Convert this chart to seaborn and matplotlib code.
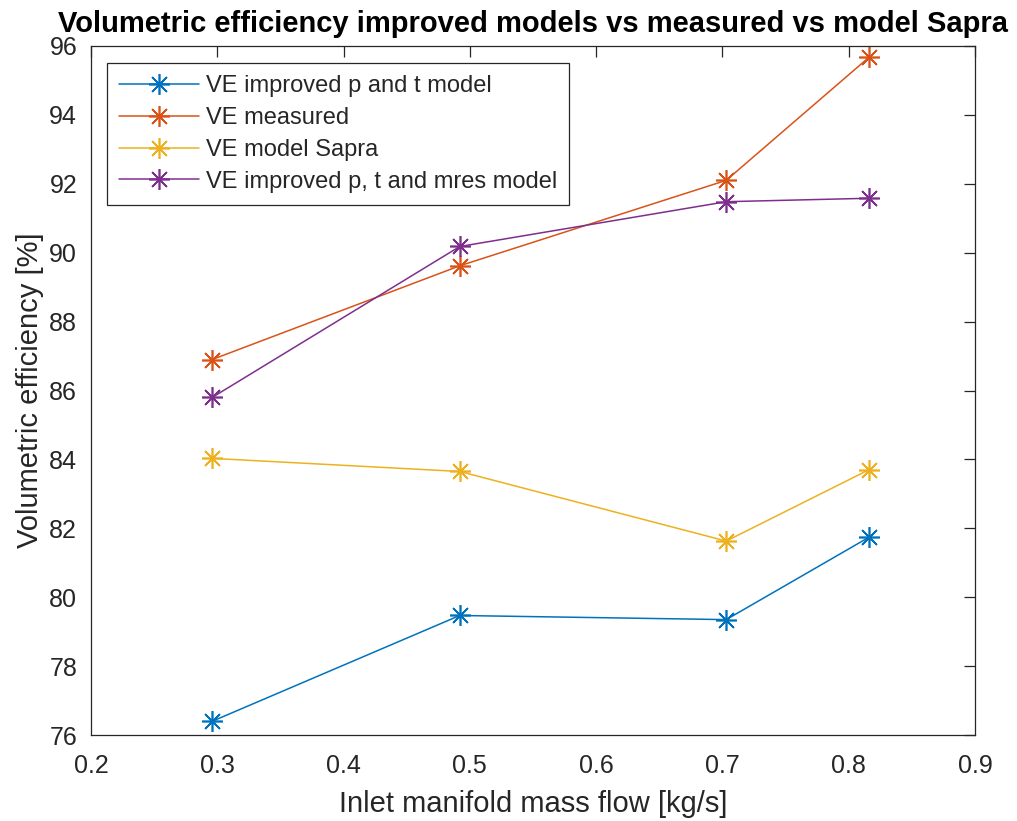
import matplotlib
matplotlib.use("Agg")
import matplotlib.pyplot as plt
import seaborn as sns
import pandas as pd

# Inlet manifold mass flow [kg/s] at the four operating points
mass_flow = [0.296, 0.492, 0.703, 0.816]

# Volumetric efficiency [%]
ve_improved_pt = [76.40, 79.47, 79.35, 81.74]
ve_measured = [86.90, 89.62, 92.10, 95.67]
ve_sapra = [84.03, 83.65, 81.63, 83.70]
ve_improved_pt_mres = [85.80, 90.18, 91.48, 91.58]

series_names = [
    "VE improved p and t model",
    "VE measured",
    "VE model Sapra",
    "VE improved p, t and mres model",
]
series_values = [ve_improved_pt, ve_measured, ve_sapra, ve_improved_pt_mres]
colors = ["#0072BD", "#D95319", "#EDB120", "#7E2F8E"]

x_ticks = [0.2, 0.3, 0.4, 0.5, 0.6, 0.7, 0.8, 0.9]
y_ticks = [76, 78, 80, 82, 84, 86, 88, 90, 92, 94, 96]

sns.set_theme(style="white")
plt.rcParams["font.family"] = ["Liberation Sans", "DejaVu Sans"]
plt.rcParams["axes.edgecolor"] = "#262626"
plt.rcParams["axes.linewidth"] = 0.9

fig = plt.figure(figsize=(10.17, 8.21), dpi=100)
ax = fig.add_axes([0.0895, 0.1047, 0.8692, 0.8393])

asterisk = (8, 2, 0)
for name, vals, col in zip(series_names, series_values, colors):
    df = pd.DataFrame({"flow": mass_flow, "ve": vals})
    sns.lineplot(data=df, x="flow", y="ve", ax=ax, color=col, label=name,
                 marker=asterisk, markersize=15, markeredgewidth=1.2,
                 markeredgecolor=col, linewidth=1.1, sort=False)

ax.set_xlim(0.2, 0.9)
ax.set_ylim(76, 96)
ax.set_xticks(x_ticks)
ax.set_xticklabels([f"{v:.1f}" for v in x_ticks])
ax.set_yticks(y_ticks)
ax.set_yticklabels([str(v) for v in y_ticks])

ax.tick_params(direction="in", length=8, width=0.9, color="#262626",
               top=True, right=True, labelsize=18, labelcolor="#262626")
ax.tick_params(axis="x", pad=14)
ax.tick_params(axis="y", pad=10)
for s in ax.spines.values():
    s.set_visible(True)
    s.set_color("#262626")

ax.set_xlabel("Inlet manifold mass flow [kg/s]", fontsize=21, color="#262626", labelpad=8)
ax.set_ylabel("Volumetric efficiency [%]", fontsize=21, color="#262626", labelpad=4)
ax.set_title("Volumetric efficiency improved models vs measured vs model Sapra",
             fontsize=21, fontweight="bold", color="black", pad=10)

leg = ax.legend(loc="upper left", bbox_to_anchor=(0.018, 0.975), fontsize=17,
                frameon=True, fancybox=False, framealpha=1, edgecolor="#262626",
                handlelength=3.4, handletextpad=0.3, borderpad=0.5,
                labelspacing=0.42, borderaxespad=0.0)
leg.get_frame().set_linewidth(0.9)

fig.savefig("out.png", dpi=100, facecolor="white")
